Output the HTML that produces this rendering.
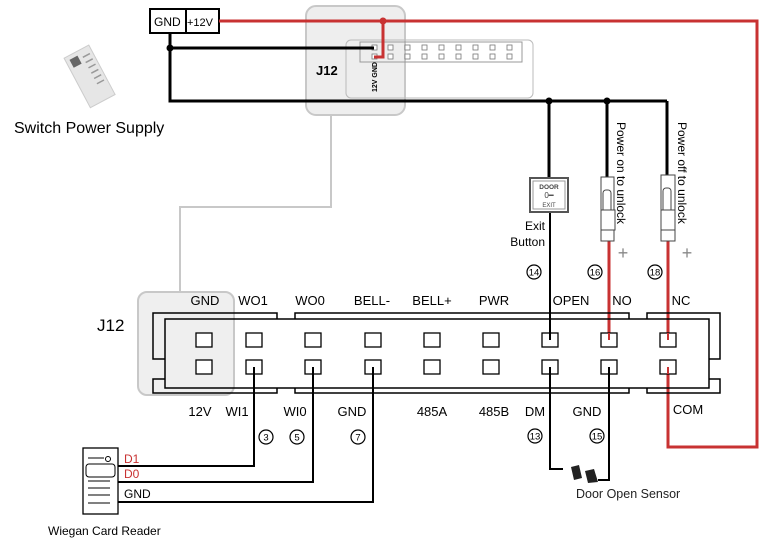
<!DOCTYPE html>
<html><head><meta charset="utf-8"><style>
html,body{margin:0;padding:0;background:#fff;}
svg{display:block;font-family:"Liberation Sans",sans-serif;}
</style></head><body>
<svg width="765" height="544" viewBox="0 0 765 544" xmlns="http://www.w3.org/2000/svg">
<rect x="306" y="6" width="99" height="109" rx="10" fill="#eeeeee" stroke="#c8c8c8" stroke-width="2"/>
<rect x="138" y="292" width="96" height="103" rx="9" fill="#efefef" stroke="#c8c8c8" stroke-width="2"/>
<polyline points="331,115 331,207 180,207 180,292" fill="none" stroke="#c8c8c8" stroke-width="2"/>
<rect x="346" y="40" width="187" height="58" rx="5" fill="none" stroke="#bbb" stroke-width="1"/>
<rect x="360" y="42" width="162" height="20" fill="none" stroke="#999" stroke-width="1"/>
<g fill="#fff" stroke="#777" stroke-width="0.8">
<rect x="372" y="45" width="5" height="5"/><rect x="372" y="54" width="5" height="5"/>
<rect x="388" y="45" width="5" height="5"/><rect x="388" y="54" width="5" height="5"/>
<rect x="405" y="45" width="5" height="5"/><rect x="405" y="54" width="5" height="5"/>
<rect x="422" y="45" width="5" height="5"/><rect x="422" y="54" width="5" height="5"/>
<rect x="439" y="45" width="5" height="5"/><rect x="439" y="54" width="5" height="5"/>
<rect x="456" y="45" width="5" height="5"/><rect x="456" y="54" width="5" height="5"/>
<rect x="473" y="45" width="5" height="5"/><rect x="473" y="54" width="5" height="5"/>
<rect x="490" y="45" width="5" height="5"/><rect x="490" y="54" width="5" height="5"/>
<rect x="507" y="45" width="5" height="5"/><rect x="507" y="54" width="5" height="5"/>
</g>
<text x="377" y="92" font-size="7" font-weight="bold" transform="rotate(-90 377 92)">12V GND</text>
<text x="316" y="75" font-size="13" font-weight="bold">J12</text>
<rect x="150" y="9" width="36" height="24" fill="#fff" stroke="#000" stroke-width="2"/>
<rect x="186" y="9" width="33" height="24" fill="#fff" stroke="#000" stroke-width="2"/>
<text x="154" y="26" font-size="12">GND</text>
<text x="187" y="26" font-size="11">+12V</text>
<g transform="rotate(-28 90 75)">
<rect x="75" y="48" width="28" height="56" fill="#e6e6e6" stroke="#ccc"/>
<rect x="79" y="52" width="9" height="9" fill="#666"/>
<g stroke="#999" stroke-width="1.5"><line x1="92" y1="56" x2="100" y2="56"/><line x1="92" y1="62" x2="100" y2="62"/><line x1="92" y1="68" x2="100" y2="68"/><line x1="92" y1="74" x2="100" y2="74"/><line x1="92" y1="80" x2="100" y2="80"/><line x1="92" y1="86" x2="100" y2="86"/></g>
</g>
<text x="14" y="133" font-size="16">Switch Power Supply</text>
<g fill="none" stroke="#000" stroke-width="3">
<polyline points="170,33 170,101 667,101"/>
<polyline points="170,48 374,48"/>
<line x1="549" y1="101" x2="549" y2="178"/>
<line x1="607" y1="101" x2="607" y2="177"/>
<line x1="667" y1="101" x2="667" y2="177"/>
</g>
<g fill="none" stroke="#000" stroke-width="2">
<line x1="550" y1="212" x2="550" y2="340"/>
<polyline points="550,367 550,469 563,469"/>
<polyline points="609,367 609,480 598,480"/>
<polyline points="254,367 254,466 118,466"/>
<polyline points="313,367 313,482 118,482"/>
<polyline points="373,367 373,502 118,502"/>
</g>
<circle cx="170" cy="48" r="3.5"/><circle cx="549" cy="101" r="3.5"/><circle cx="607" cy="101" r="3.5"/>
<g fill="none" stroke="#c83232" stroke-width="3">
<polyline points="219,21 757,21 757,447 668,447 668,367"/>
<polyline points="383,21 383,57 374,57"/>
<line x1="609" y1="241" x2="609" y2="340"/>
<line x1="668" y1="241" x2="668" y2="340"/>
</g>
<circle cx="383" cy="21" r="3.5" fill="#c83232"/>
<rect x="530" y="178" width="38" height="34" fill="#fff" stroke="#555" stroke-width="2"/>
<rect x="533" y="181" width="32" height="28" fill="none" stroke="#999" stroke-width="1"/>
<text x="549" y="189" font-size="6.5" font-weight="bold" text-anchor="middle" fill="#444">DOOR</text>
<text x="549" y="198" font-size="8" text-anchor="middle" fill="#444">0━</text>
<text x="549" y="207" font-size="6" text-anchor="middle" fill="#444">EXIT</text>
<text x="545" y="230" font-size="12" text-anchor="end">Exit</text>
<text x="545" y="246" font-size="12" text-anchor="end">Button</text>
<g fill="#fff" stroke="#444" stroke-width="1">
<rect x="601" y="177" width="13" height="64"/><rect x="603" y="190" width="8" height="24" rx="3"/><rect x="601" y="210" width="14" height="20"/>
<rect x="661" y="175" width="14" height="66"/><rect x="663" y="188" width="8" height="26" rx="3"/><rect x="661" y="210" width="14" height="20"/>
</g>
<text x="617" y="122" font-size="12" transform="rotate(90 617 122)">Power on to unlock</text>
<text x="678" y="122" font-size="12" transform="rotate(90 678 122)">Power off to unlock</text>
<text x="623" y="259" font-size="18" fill="#888" text-anchor="middle">+</text>
<text x="687" y="259" font-size="18" fill="#888" text-anchor="middle">+</text>
<g fill="none" stroke="#000" stroke-width="1.2">
<circle cx="534" cy="272" r="7"/><circle cx="595" cy="272" r="7"/><circle cx="655" cy="272" r="7"/>
<circle cx="266" cy="437" r="7"/><circle cx="297" cy="437" r="7"/><circle cx="358" cy="437" r="7"/>
<circle cx="535" cy="436" r="7"/><circle cx="597" cy="436" r="7"/>
</g>
<g font-size="9.5" text-anchor="middle">
<text x="534" y="275.5">14</text><text x="595" y="275.5">16</text><text x="655" y="275.5">18</text>
<text x="266" y="440.5">3</text><text x="297" y="440.5">5</text><text x="358" y="440.5">7</text>
<text x="535" y="439.5">13</text><text x="597" y="439.5">15</text>
</g>
<g fill="none" stroke="#000" stroke-width="1.5">
<polyline points="165,359 153,359 153,313 277,313 277,319"/>
<polyline points="295,319 295,313 629,313 629,319"/>
<polyline points="647,319 647,313 720,313 720,359 709,359"/>
<polyline points="165,379 153,379 153,393 277,393 277,388"/>
<polyline points="295,388 295,393 629,393 629,388"/>
<polyline points="647,388 647,393 720,393 720,379 709,379"/>
<rect x="165" y="319" width="544" height="69"/>
</g>
<g fill="#fff" stroke="#000" stroke-width="1.3">
<rect x="196" y="333" width="16" height="14"/><rect x="196" y="360" width="16" height="14"/>
<rect x="246" y="333" width="16" height="14"/><rect x="246" y="360" width="16" height="14"/>
<rect x="305" y="333" width="16" height="14"/><rect x="305" y="360" width="16" height="14"/>
<rect x="365" y="333" width="16" height="14"/><rect x="365" y="360" width="16" height="14"/>
<rect x="424" y="333" width="16" height="14"/><rect x="424" y="360" width="16" height="14"/>
<rect x="483" y="333" width="16" height="14"/><rect x="483" y="360" width="16" height="14"/>
<rect x="542" y="333" width="16" height="14"/><rect x="542" y="360" width="16" height="14"/>
<rect x="601" y="333" width="16" height="14"/><rect x="601" y="360" width="16" height="14"/>
<rect x="660" y="333" width="16" height="14"/><rect x="660" y="360" width="16" height="14"/>
</g>
<g stroke-width="2" fill="none">
<line x1="550" y1="333" x2="550" y2="340" stroke="#000"/>
<line x1="550" y1="367" x2="550" y2="374" stroke="#000"/>
<line x1="609" y1="333" x2="609" y2="340" stroke="#c83232"/>
<line x1="668" y1="333" x2="668" y2="340" stroke="#c83232"/>
<line x1="668" y1="367" x2="668" y2="374" stroke="#c83232"/>
<line x1="609" y1="367" x2="609" y2="374" stroke="#000"/>
<line x1="254" y1="367" x2="254" y2="374" stroke="#000"/>
<line x1="313" y1="367" x2="313" y2="374" stroke="#000"/>
<line x1="373" y1="367" x2="373" y2="374" stroke="#000"/>
</g>
<text x="97" y="331" font-size="17">J12</text>
<g font-size="13" text-anchor="middle">
<text x="205" y="305">GND</text><text x="253" y="305">WO1</text><text x="310" y="305">WO0</text>
<text x="372" y="305">BELL-</text><text x="432" y="305">BELL+</text><text x="494" y="305">PWR</text>
<text x="571" y="305">OPEN</text><text x="622" y="305">NO</text><text x="681" y="305">NC</text>
<text x="200" y="416">12V</text><text x="237" y="416">WI1</text><text x="295" y="416">WI0</text>
<text x="352" y="416">GND</text><text x="432" y="416">485A</text><text x="494" y="416">485B</text>
<text x="535" y="416">DM</text><text x="587" y="416">GND</text><text x="688" y="414">COM</text>
</g>
<path d="M571,467 L579,465 L582,478 L574,480 Z" fill="#222"/>
<path d="M585,471 L594,469 L598,482 L588,483 Z" fill="#222"/>
<text x="576" y="498" font-size="12.5" fill="#222">Door Open Sensor</text>
<rect x="83" y="448" width="35" height="66" fill="#fff" stroke="#000" stroke-width="1.3"/>
<line x1="88" y1="458" x2="104" y2="458" stroke="#000"/><circle cx="108" cy="459" r="2.5" fill="none" stroke="#000"/>
<rect x="86" y="464" width="29" height="13" rx="3" fill="none" stroke="#000"/>
<g stroke="#000"><line x1="88" y1="481" x2="110" y2="481"/><line x1="88" y1="488" x2="110" y2="488"/><line x1="88" y1="495" x2="110" y2="495"/><line x1="88" y1="503" x2="110" y2="503"/></g>
<text x="124" y="463" font-size="12" fill="#c83232">D1</text>
<text x="124" y="478" font-size="12" fill="#c83232">D0</text>
<text x="124" y="498" font-size="12">GND</text>
<text x="48" y="535" font-size="12">Wiegan Card Reader</text>
</svg>
</body></html>
